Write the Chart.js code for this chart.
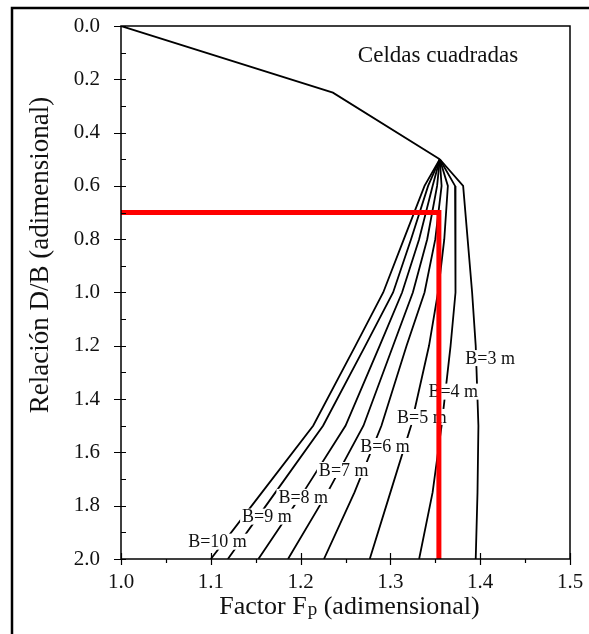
<!DOCTYPE html>
<html>
<head>
<meta charset="utf-8">
<script src="https://cdn.jsdelivr.net/npm/chart.js@4.4.1/dist/chart.umd.min.js"></script>
<style>
  html, body { margin: 0; padding: 0; background: #fff; }
  #wrap { width: 589px; height: 634px; position: relative; }
</style>
</head>
<body>
<div id="wrap"><canvas id="grafico" width="589" height="634"></canvas></div>
<script>
// tramo comun (todas las curvas)
const trunkDB = [0, 0.25, 0.5];
const trunkFp = [1.0, 1.236, 1.355];

// niveles D/B de cada curva B
const dbLevels = [0.5, 0.6, 0.8, 1.0, 1.2, 1.5, 1.75, 2.0];
const fpB3  = [1.355, 1.381, 1.386, 1.391, 1.395, 1.398, 1.397, 1.395];
const fpB4  = [1.355, 1.372, 1.373, 1.372, 1.367, 1.357, 1.347, 1.332];
const fpB5  = [1.355, 1.364, 1.360, 1.353, 1.343, 1.323, 1.300, 1.277];
const fpB6  = [1.355, 1.357, 1.350, 1.338, 1.318, 1.290, 1.260, 1.226];
const fpB7  = [1.355, 1.352, 1.341, 1.325, 1.303, 1.270, 1.230, 1.186];
const fpB8  = [1.355, 1.347, 1.332, 1.313, 1.288, 1.250, 1.203, 1.153];
const fpB9  = [1.355, 1.342, 1.323, 1.303, 1.272, 1.225, 1.172, 1.119];
const fpB10 = [1.355, 1.338, 1.315, 1.292, 1.261, 1.214, 1.157, 1.100];

const curvas = [fpB3, fpB4, fpB5, fpB6, fpB7, fpB8, fpB9, fpB10];
const etiquetas = ["B=3 m", "B=4 m", "B=5 m", "B=6 m", "B=7 m", "B=8 m", "B=9 m", "B=10 m"];
const etiquetaFp = [1.411, 1.370, 1.335, 1.294, 1.248, 1.203, 1.1625, 1.1075];
const etiquetaDB = [1.246, 1.372, 1.467, 1.576, 1.666, 1.767, 1.841, 1.935];

// linea roja de lectura
const rojaFp = [1.0, 1.354, 1.354];
const rojaDB = [0.7, 0.7, 2.0];

const xTicks = [1.0, 1.1, 1.2, 1.3, 1.4, 1.5];
const yTicks = [0.0, 0.2, 0.4, 0.6, 0.8, 1.0, 1.2, 1.4, 1.6, 1.8, 2.0];

const SERIF = "'Liberation Serif', 'Times New Roman', serif";
const TXT = "#111";

function puntos(xs, ys) {
    return xs.map((x, i) => ({ x: x, y: ys[i] }));
}

const datasets = [
    { data: puntos(rojaFp, rojaDB), borderColor: "#ff0000", borderWidth: 5, borderCapStyle: "butt" },
    { data: puntos(trunkFp, trunkDB), borderColor: "#000", borderWidth: 1.8 },
];
curvas.forEach((c) => {
    datasets.push({ data: puntos(c, dbLevels), borderColor: "#000", borderWidth: 1.8 });
});
datasets.forEach((d) => {
    d.showLine = true;
    d.pointRadius = 0;
    d.tension = 0;
    d.fill = false;
});

const decoracion = {
    id: "decoracion",
    beforeDatasetDraw(chart, args) {
        // etiquetas B=.. con fondo blanco, debajo de la linea roja
        if (args.index !== 0) return;
        const ctx = chart.ctx;
        const sx = chart.scales.x, sy = chart.scales.y;
        ctx.save();
        ctx.font = "18px " + SERIF;
        ctx.textAlign = "center";
        ctx.textBaseline = "middle";
        etiquetas.forEach((t, i) => {
            const px = sx.getPixelForValue(etiquetaFp[i]);
            const py = sy.getPixelForValue(etiquetaDB[i]);
            const w = ctx.measureText(t).width;
            ctx.fillStyle = "#fff";
            ctx.fillRect(px - w / 2 - 2, py - 8, w + 4, 16);
            ctx.fillStyle = TXT;
            ctx.fillText(t, px, py + 1);
        });
        ctx.restore();
    },
    afterDraw(chart) {
        const ctx = chart.ctx;
        const a = chart.chartArea;
        const sx = chart.scales.x, sy = chart.scales.y;
        ctx.save();

        // marco exterior
        ctx.strokeStyle = "#000";
        ctx.lineWidth = 2.5;
        ctx.beginPath();
        ctx.moveTo(12, 640);
        ctx.lineTo(12, 8);
        ctx.lineTo(600, 8);
        ctx.stroke();

        // marco del grafico
        ctx.lineWidth = 1.5;
        ctx.strokeRect(a.left, a.top, a.right - a.left, a.bottom - a.top);

        // marcas eje y
        ctx.lineWidth = 1.2;
        ctx.beginPath();
        for (let v = 0; v <= 2.0001; v += 0.1) {
            const py = Math.round(sy.getPixelForValue(v)) + 0.5;
            const mayor = Math.round(v * 10) % 2 === 0;
            ctx.moveTo(mayor ? a.left - 7 : a.left, py);
            ctx.lineTo(a.left + 5, py);
        }
        // marcas eje x
        for (let v = 1.0; v <= 1.5001; v += 0.05) {
            const px = Math.round(sx.getPixelForValue(v)) + 0.5;
            const mayor = Math.round(v * 100) % 10 === 0;
            ctx.moveTo(px, mayor ? a.bottom - 6 : a.bottom);
            ctx.lineTo(px, a.bottom + (mayor ? 6 : 4));
        }
        ctx.stroke();

        // textos
        ctx.fillStyle = TXT;
        ctx.font = "23px " + SERIF;
        ctx.textAlign = "center";
        ctx.textBaseline = "middle";
        ctx.fillText("Celdas cuadradas", 438, 56);

        // titulo eje x con subindice
        const base = 614;
        const p1 = "Factor F", p2 = "p", p3 = " (adimensional)";
        ctx.textBaseline = "alphabetic";
        ctx.textAlign = "left";
        ctx.font = "26px " + SERIF;
        const w1 = ctx.measureText(p1).width;
        const w3 = ctx.measureText(p3).width;
        ctx.font = "19px " + SERIF;
        const w2 = ctx.measureText(p2).width;
        let x0 = 349 - (w1 + w2 + w3) / 2;
        ctx.font = "26px " + SERIF;
        ctx.fillText(p1, x0, base);
        ctx.font = "19px " + SERIF;
        ctx.fillText(p2, x0 + w1 + 1, base + 1);
        ctx.font = "26px " + SERIF;
        ctx.fillText(p3, x0 + w1 + w2 + 1, base);

        // titulo eje y
        ctx.translate(41, 255);
        ctx.rotate(-Math.PI / 2);
        ctx.textAlign = "center";
        ctx.textBaseline = "middle";
        ctx.font = "27px " + SERIF;
        ctx.fillText("Relación D/B (adimensional)", 0, 0);
        ctx.restore();
    },
};

Chart.defaults.font.family = SERIF;
Chart.defaults.color = TXT;

// las marcas de Chart.js quedan transparentes: solo sirven para separar las etiquetas
const gridInvisible = (largo) => ({
    display: true,
    drawOnChartArea: false,
    drawTicks: true,
    tickLength: largo,
    color: "rgba(0,0,0,0)",
});

new Chart(document.getElementById("grafico").getContext("2d"), {
    type: "scatter",
    data: { datasets: datasets },
    options: {
        responsive: false,
        animation: false,
        layout: { padding: { left: 0, top: 26, right: 19, bottom: 0 } },
        plugins: { legend: { display: false }, tooltip: { enabled: false } },
        scales: {
            x: {
                type: "linear",
                min: 1.0,
                max: 1.5,
                afterBuildTicks: (s) => { s.ticks = xTicks.map((v) => ({ value: v })); },
                afterFit: (s) => { s.height = 75; },
                grid: gridInvisible(11),
                border: { display: false },
                ticks: { font: { size: 21 }, padding: 0, callback: (v) => Number(v).toFixed(1), maxRotation: 0 },
            },
            y: {
                type: "linear",
                reverse: true,
                min: 0,
                max: 2.0,
                afterBuildTicks: (s) => { s.ticks = yTicks.map((v) => ({ value: v })); },
                afterFit: (s) => { s.width = 121; },
                grid: gridInvisible(21),
                border: { display: false },
                ticks: { font: { size: 21 }, padding: 0, callback: (v) => Number(v).toFixed(1) },
            },
        },
    },
    plugins: [decoracion],
});
</script>
</body>
</html>
